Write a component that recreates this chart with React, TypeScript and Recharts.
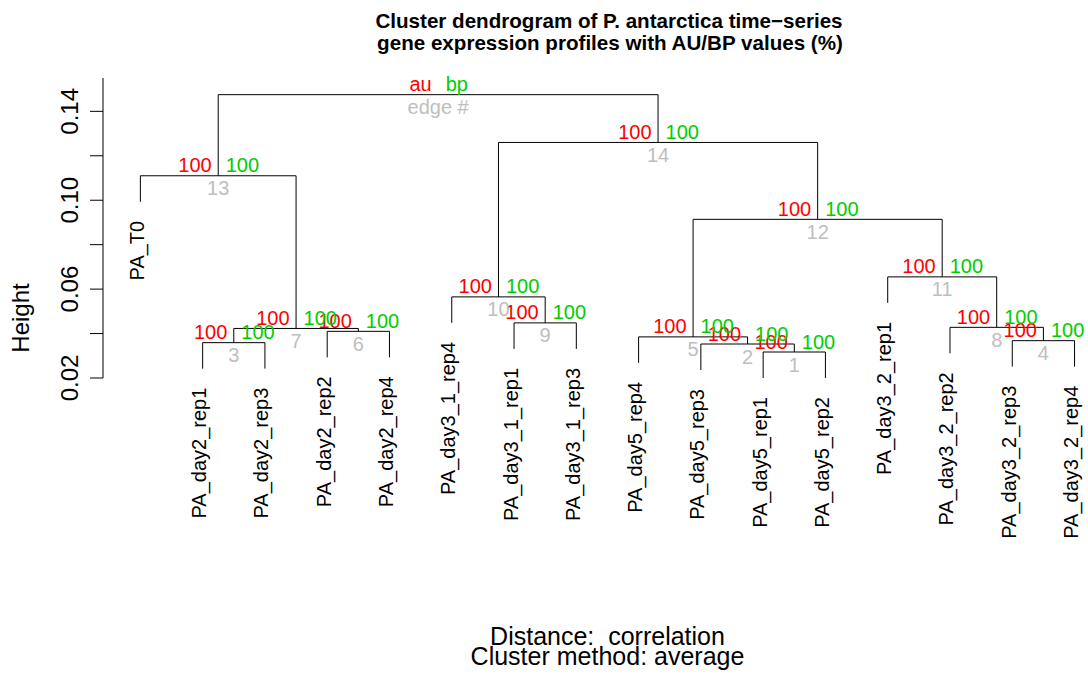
import React from 'react';
import { ComposedChart, Line, Scatter, XAxis, YAxis } from 'recharts';

const leafNames = [
  'PA_T0',
  'PA_day2_rep1',
  'PA_day2_rep3',
  'PA_day2_rep2',
  'PA_day2_rep4',
  'PA_day3_1_rep4',
  'PA_day3_1_rep1',
  'PA_day3_1_rep3',
  'PA_day5_rep4',
  'PA_day5_rep3',
  'PA_day5_rep1',
  'PA_day5_rep2',
  'PA_day3_2_rep1',
  'PA_day3_2_rep2',
  'PA_day3_2_rep3',
  'PA_day3_2_rep4',
];

// hclust merge table: negative = leaf number, positive = earlier merge (edge #)
const mergeLeft = [-11, -10, -2, -15, -9, -4, 3, -14, -7, -6, -13, 5, -1, 10, 13];
const mergeRight = [-12, 1, -3, -16, 2, -5, 6, 4, -8, 9, 8, 11, 7, 12, 14];
const mergeHeight = [
  0.0317, 0.0353, 0.0359, 0.0368, 0.0385, 0.041, 0.0423, 0.0428, 0.0448, 0.0565, 0.0655, 0.0914,
  0.111, 0.126, 0.1475,
];
const auValues = [100, 100, 100, 100, 100, 100, 100, 100, 100, 100, 100, 100, 100, 100];
const bpValues = [100, 100, 100, 100, 100, 100, 100, 100, 100, 100, 100, 100, 100, 100];

const heightTicks = [0.02, 0.04, 0.06, 0.08, 0.1, 0.12, 0.14];
const labeledTicks = [0.02, 0.06, 0.1, 0.14];

// how far leaves hang below their parent merge
const HANG = 0.0117;

const RED = '#FF0000';
const GREEN = '#00CD00';
const GREY = '#BEBEBE';
const FONT = '"Liberation Sans", Arial, Helvetica, sans-serif';

// walk the merge table: x of a merge is the midpoint of its two children
const mergeX: number[] = [];
const leafEnd: number[] = [];
const nodeX = (id: number) => (id < 0 ? -id : mergeX[id - 1]);
const segments = mergeLeft.map((left, i) => {
  const right = mergeRight[i];
  const h = mergeHeight[i];
  [left, right].forEach((id) => {
    if (id < 0) leafEnd[-id] = Math.max(0.02, h - HANG);
  });
  const nodeY = (id: number) => (id < 0 ? leafEnd[-id] : mergeHeight[id - 1]);
  const xl = nodeX(left);
  const xr = nodeX(right);
  mergeX[i] = (xl + xr) / 2;
  return [
    { x: xl, h: nodeY(left) },
    { x: xl, h },
    { x: xr, h },
    { x: xr, h: nodeY(right) },
  ];
});

const mergePoints = mergeHeight.map((h, i) => ({
  x: mergeX[i],
  h,
  edge: i + 1,
  au: auValues[i],
  bp: bpValues[i],
}));

const leafPoints = leafNames.map((name, i) => ({ x: i + 1, h: leafEnd[i + 1], name }));

const MergeLabel = (props: any) => {
  const { cx, cy, payload } = props;
  const isRoot = payload.edge === mergeHeight.length;
  return (
    <g fontSize={20}>
      <text x={cx - 6.5} y={cy - 3.5} textAnchor="end" fill={RED}>
        {isRoot ? 'au' : payload.au}
      </text>
      <text x={cx + 7.5} y={cy - 3.5} textAnchor="start" fill={GREEN}>
        {isRoot ? 'bp' : payload.bp}
      </text>
      <text x={cx} y={cy + 19.5} textAnchor="middle" fill={GREY}>
        {isRoot ? 'edge #' : payload.edge}
      </text>
    </g>
  );
};

const LeafLabel = (props: any) => {
  const { cx, cy, payload } = props;
  return (
    <text
      transform={`translate(${cx + 3.5},${cy + 19}) rotate(-90)`}
      textAnchor="end"
      fontSize={20}
      fill="#000"
    >
      {payload.name}
    </text>
  );
};

const HeightTick = (props: any) => {
  const { x, y, payload } = props;
  if (!labeledTicks.some((v) => Math.abs(v - payload.value) < 1e-9)) return <g />;
  return (
    <text transform={`translate(${x},${y}) rotate(-90)`} textAnchor="middle" fontSize={24} fill="#000">
      {payload.value.toFixed(2)}
    </text>
  );
};

export default function App() {
  return (
    <div style={{ position: 'absolute', left: 0, top: 0, width: 1088, height: 680, fontFamily: FONT, background: '#fff' }}>
      <ComposedChart width={1088} height={680} margin={{ top: 78, right: 1, bottom: 302, left: 0 }}>
        <XAxis type="number" dataKey="x" domain={[0.4, 16.2]} hide />
        <YAxis
          type="number"
          dataKey="h"
          domain={[0.02, 0.155]}
          ticks={heightTicks}
          interval={0}
          width={103}
          tickSize={13}
          tickMargin={12}
          tick={HeightTick}
          axisLine={{ stroke: '#000' }}
          tickLine={{ stroke: '#000' }}
        />
        {segments.map((seg, i) => (
          <Line
            key={`edge-${i + 1}`}
            data={seg}
            dataKey="h"
            type="linear"
            stroke="#000"
            strokeWidth={1}
            dot={false}
            activeDot={false}
            isAnimationActive={false}
          />
        ))}
        <Scatter data={leafPoints} dataKey="h" shape={LeafLabel} isAnimationActive={false} />
        <Scatter data={mergePoints} dataKey="h" shape={MergeLabel} isAnimationActive={false} />
      </ComposedChart>
      <svg
        width={1088}
        height={680}
        style={{ position: 'absolute', left: 0, top: 0, pointerEvents: 'none' }}
      >
        <g fontWeight="bold" fontSize={20.6} textAnchor="middle" fill="#000">
          <text x={609} y={28}>Cluster dendrogram of P. antarctica time−series</text>
          <text x={610} y={50}>gene expression profiles with AU/BP values (%)</text>
        </g>
        <text transform="translate(29,318) rotate(-90)" textAnchor="middle" fontSize={24}>
          Height
        </text>
        <g fontSize={25} textAnchor="middle">
          <text x={607.5} y={645}>{'Distance:\u00A0 correlation'}</text>
          <text x={607.5} y={665}>Cluster method: average</text>
        </g>
      </svg>
    </div>
  );
}
